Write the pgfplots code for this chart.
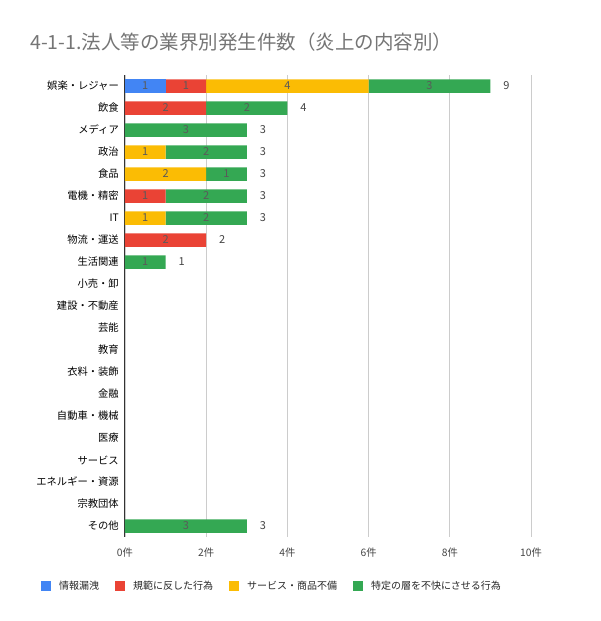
\documentclass[border=0pt]{standalone}
\usepackage{fontspec}
\setmainfont{Noto Sans CJK JP}
\usepackage{pgfplots}
\usepackage{pgfplotstable}
\pgfplotsset{compat=1.18}
\definecolor{cblue}{HTML}{4285F4}
\definecolor{cred}{HTML}{EA4335}
\definecolor{cyellow}{HTML}{FBBC04}
\definecolor{cgreen}{HTML}{34A853}
\definecolor{titlegrey}{HTML}{757575}
\definecolor{labgrey}{HTML}{5A5A5A}
\definecolor{totgrey}{HTML}{444444}
\definecolor{gridgrey}{HTML}{CCCCCC}
\definecolor{axisdark}{HTML}{333333}

\pgfplotstableread{
y a b c d
0 1 1 4 3
1 0 2 0 2
2 0 0 0 3
3 0 0 1 2
4 0 0 2 1
5 0 1 0 2
6 0 0 1 2
7 0 2 0 0
8 0 0 0 1
9 0 0 0 0
10 0 0 0 0
11 0 0 0 0
12 0 0 0 0
13 0 0 0 0
14 0 0 0 0
15 0 0 0 0
16 0 0 0 0
17 0 0 0 0
18 0 0 0 0
19 0 0 0 0
20 0 0 0 3
}\data

\pgfplotstableread{
x y label
0.5 0 1
1.5 0 1
4 0 4
7.5 0 3
1 1 2
3 1 2
1.5 2 3
0.5 3 1
2 3 2
1 4 2
2.5 4 1
0.5 5 1
2 5 2
0.5 6 1
2 6 2
1 7 2
0.5 8 1
1.5 20 3
}\seglabels

\pgfplotstableread{
x y label
9 0 9
4 1 4
3 2 3
3 3 3
3 4 3
3 5 3
3 6 3
2 7 2
1 8 1
3 20 3
}\totals

\begin{document}
\begin{tikzpicture}
\useasboundingbox (0,0) rectangle (600pt,621pt);
\node[anchor=base west, text=titlegrey, font=\fontsize{19.5}{22}\selectfont, inner sep=0pt] at (30pt,571pt) {4-1-1.法人等の業界別発生件数（炎上の内容別）};
\begin{axis}[
  at={(125pt,84pt)}, anchor=south west,
  scale only axis, width=406pt, height=462pt,
  xbar stacked, bar width=13.5pt,
  xmin=0, xmax=10, ymin=-0.5, ymax=20.5,
  y dir=reverse,
  axis line style={draw=none},
  major tick length=0pt,
  xtick={0,2,4,6,8,10},
  xticklabels={0件,2件,4件,6件,8件,10件},
  extra x ticks={0}, extra x tick labels={},
  extra x tick style={grid style={axisdark, line width=1pt}},
  ytick={0,...,20},
  yticklabels={娯楽・レジャー,飲食,メディア,政治,食品,電機・精密,IT,物流・運送,生活関連,小売・卸,建設・不動産,芸能,教育,衣料・装飾,金融,自動車・機械,医療,サービス,エネルギー・資源,宗教団体,その他},
  xmajorgrids, grid style={gridgrey, line width=0.8pt},
  tick label style={inner sep=0pt, font=\fontsize{10.3}{12}\selectfont},
  yticklabel style={xshift=-6pt, text=black},
  xticklabel style={yshift=-11pt, text=totgrey},
  legend style={at={(-0.207,-0.106)}, anchor=west, draw=none, fill=none, inner sep=0pt,
    legend columns=-1, font=\fontsize{10}{12}\selectfont, text=black!85,
    nodes={inner sep=0pt},
    /tikz/every odd column/.append style={column sep=8pt},
    /tikz/every even column/.append style={column sep=16pt}},
  legend image code/.code={\fill[#1] (0pt,-5pt) rectangle (10pt,5pt);},
]
\addplot[fill=cblue, draw=none] table[x=a, y=y] {\data};
\addplot[fill=cred, draw=none] table[x=b, y=y] {\data};
\addplot[fill=cyellow, draw=none] table[x=c, y=y] {\data};
\addplot[fill=cgreen, draw=none] table[x=d, y=y] {\data};
\legend{情報漏洩,規範に反した行為,サービス・商品不備,特定の層を不快にさせる行為}
\end{axis}
\begin{axis}[
  at={(125pt,84pt)}, anchor=south west,
  scale only axis, width=406pt, height=462pt,
  xmin=0, xmax=10, ymin=-0.5, ymax=20.5,
  y dir=reverse, hide axis,
]
\addplot[draw=none, mark=none, nodes near coords, point meta=explicit symbolic,
  every node near coord/.style={anchor=center, inner sep=0pt, text=labgrey, font=\fontsize{11}{12}\selectfont}]
  table[x=x, y=y, meta=label] {\seglabels};
\addplot[draw=none, mark=none, nodes near coords, point meta=explicit symbolic,
  every node near coord/.style={anchor=center, xshift=16pt, inner sep=0pt, text=totgrey, font=\fontsize{11}{12}\selectfont}]
  table[x=x, y=y, meta=label] {\totals};
\end{axis}
\end{tikzpicture}
\end{document}
